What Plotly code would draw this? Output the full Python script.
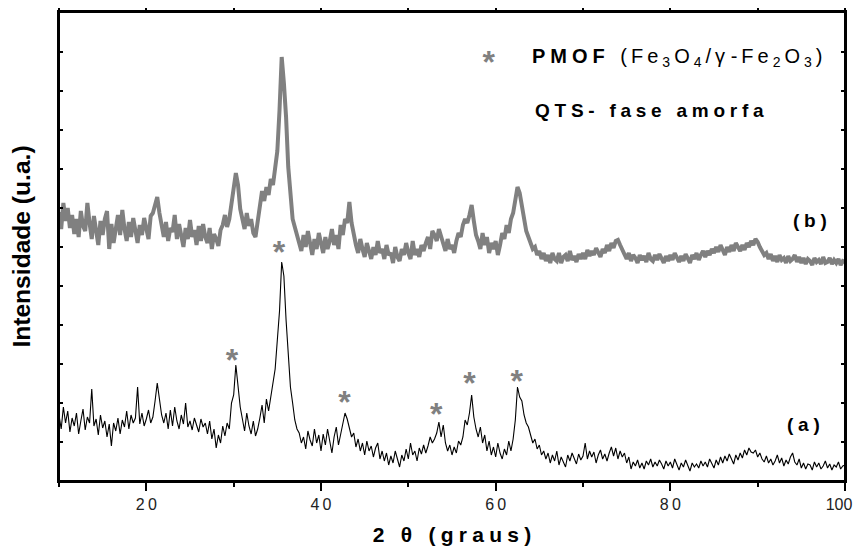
import numpy as np
import plotly.graph_objects as go

# 2-theta sampling (degrees), 0.25 step from 10 to 100
two_theta = np.arange(10.0, 100.001, 0.25)

# (a) black pattern, intensity (a.u.)
intensity_a = [
    66, 52, 74, 58,  70, 49, 63, 55,  68, 47, 60, 72,  51, 64, 58, 92,
    55, 62, 46, 66,  53, 60, 44, 57,  35, 58, 50, 63,  47, 61, 54, 70,
    52, 66, 58, 63,  94, 57, 68, 55,  62, 71, 58, 64,  80, 98, 82, 66,
    58, 68, 52, 71,  55, 74, 60, 52,  66, 57, 78, 54,  60, 51, 63, 55,
    49, 62, 54, 58,  47, 60, 42, 52,  33, 46, 38, 55,  45, 58, 52, 78,
    86, 116, 92, 74, 62, 50, 68, 55,  47, 60, 45, 52,  63, 76, 58, 82,
    70, 84, 96, 112, 141, 170, 219, 205, 161, 124, 94, 78, 61, 52, 48, 38,
    44, 32, 50, 41,  35, 52, 38, 46,  30, 47, 36, 52,  40, 28, 44, 54,
    36, 48, 56, 68,  62, 54, 44, 48,  34, 42, 30, 38,  26, 40, 30, 35,
    24, 33, 38, 22,  30, 20, 28, 16,  25, 18, 30, 22,  14, 26, 20, 32,
    22, 38, 26, 30,  20, 33, 27, 36,  28, 35, 44, 38,  42, 48, 59, 44,
    56, 38, 30, 36,  26, 34, 28, 40,  36, 44, 61, 56,  68, 86, 64, 52,
    44, 54, 38, 46,  30, 40, 26, 34,  24, 38, 28, 22,  32, 26, 40, 30,
    42, 61, 94, 84,  80, 66, 58, 54,  46, 38, 42, 32,  36, 26, 30, 22,
    28, 18, 26, 20,  30, 16, 24, 19,  14, 26, 20, 28,  22, 17, 27, 21,
    25, 38, 22, 30,  24, 29, 18, 26,  31, 22, 27, 20,  28, 34, 25, 33,
    22, 30, 24, 28,  18, 24, 12, 19,  15, 21, 13, 18,  12, 20, 16, 22,
    14, 19, 15, 21,  17, 12, 20, 15,  19, 13, 22, 16,  11, 18, 14, 21,
    15, 10, 18, 14,  17, 13, 20, 15,  19, 14, 22, 17,  13, 21, 16, 24,
    18, 25, 20, 27,  22, 17, 26, 21,  28, 23, 31, 26,  33, 29, 28, 31,
    24, 28, 22, 19,  25, 18, 22, 16,  20, 26, 18, 23,  15, 21, 17, 24,
    28, 19, 16, 22,  13, 18, 12, 17,  16, 11, 19, 14,  18, 12, 15, 20,
    13, 17, 11, 16,  14, 19, 12, 15,  16,
]

# (b) grey pattern, intensity (a.u.)
intensity_b = [
    269, 252, 278, 260,  273, 253, 266, 247,  262, 244, 270, 255,  250, 278, 258, 242,
    265, 251, 236, 260,  246, 262, 270, 232,  257, 238, 255, 266,  246, 271, 252, 240,
    259, 244, 263, 250,  238, 256, 246, 263,  250, 242, 265, 268,  276, 284, 268, 254,
    244, 259, 240, 253,  249, 266, 242, 257,  246, 234, 253, 242,  261, 244, 251, 236,
    255, 240, 257, 244,  238, 253, 232, 247,  242, 235, 251, 256,  266, 254, 262, 280,
    290, 308, 296, 272,  262, 252, 268, 255,  262, 248, 244, 258,  276, 290, 280, 294,
    286, 302, 296, 314,  330, 371, 424, 398,  364, 314, 281, 262,  254, 246, 240, 230,
    246, 234, 250, 238,  226, 242, 232, 248,  236, 228, 244, 232,  240, 252, 236, 246,
    232, 256, 246, 262,  258, 279, 258, 246,  236, 228, 242, 232,  224, 238, 230, 222,
    234, 226, 240, 228,  232, 222, 236, 226,  228, 218, 234, 224,  220, 232, 226, 238,
    228, 222, 240, 226,  232, 224, 236, 230,  238, 244, 232, 250,  246, 240, 252, 244,
    238, 230, 242, 232,  236, 228, 240, 248,  244, 256, 262, 258,  266, 276, 260, 246,
    240, 232, 248, 236,  244, 228, 238, 232,  240, 226, 236, 248,  242, 256, 248, 262,
    268, 284, 294, 288,  276, 262, 250, 244,  238, 232, 234, 226,  230, 222, 228, 220,
    226, 218, 228, 222,  220, 228, 218, 224,  226, 220, 230, 221,  225, 219, 227, 222,
    228, 222, 231, 225,  230, 226, 233, 228,  224, 232, 228, 236,  230, 238, 233, 240,
    241, 236, 232, 226,  222, 228, 220, 226,  223, 218, 226, 221,  225, 219, 228, 222,
    220, 226, 221, 227,  222, 218, 225, 220,  226, 221, 228, 223,  219, 225, 220, 227,
    223, 218, 226, 222,  228, 221, 226, 230,  224, 230, 226, 232,  228, 234, 229, 236,
    231, 226, 234, 229,  236, 230, 238, 233,  230, 236, 231, 238,  234, 240, 236, 242,
    239, 234, 230, 226,  228, 222, 227, 220,  225, 219, 226, 221,  223, 218, 225, 220,
    222, 226, 219, 224,  218, 223, 217, 222,  220, 216, 223, 219,  221, 217, 224, 218,
    219, 223, 217, 221,  218, 222, 216, 220,  219,
]

# peak markers (*) positions
star_x = [35.18, 29.8, 42.7, 53.2, 57.0, 62.4, 59.2]
star_y = [226, 118, 76, 64, 95, 97, 416]

tick_vals = [20, 40, 60, 80, 100]

THIN = "\u2009"     # ~0.2 em
QUAD = "\u2005"     # 0.25 em
NB = "\u00a0"
WORD = QUAD + NB + QUAD


def sp(s, gap):
    return gap.join(list(s))


tick_text = [sp(str(v), THIN) for v in tick_vals[:-1]] + ["100" + QUAD * 3]

FONT = "Liberation Sans, Arial, sans-serif"
GREY = "#808080"

fig = go.Figure()
fig.add_trace(go.Scatter(x=two_theta, y=intensity_b, mode="lines",
                         line=dict(color=GREY, width=4), name="(b)", showlegend=False))
fig.add_trace(go.Scatter(x=two_theta, y=intensity_a, mode="lines",
                         line=dict(color="black", width=1.1), name="(a)", showlegend=False))
fig.add_trace(go.Scatter(x=star_x, y=star_y, mode="text", text=["*"] * len(star_x),
                         textposition="middle center",
                         textfont=dict(family=FONT, size=32, color=GREY, weight="bold"),
                         showlegend=False, hoverinfo="skip"))

pmof = ("<b>" + sp("PMOF", QUAD) + "</b>" + NB + QUAD + QUAD +
        sp("(Fe", THIN) + THIN + "<sub>3</sub>" + THIN + "O" + THIN + "<sub>4</sub>" + THIN +
        sp("/γ", THIN) + NB + sp("-Fe", THIN) + THIN + "<sub>2</sub>" + THIN + "O" + THIN +
        "<sub>3</sub>" + THIN + ")")
qts = "<b>" + sp("QTS-", QUAD) + WORD + sp("fase", QUAD) + WORD + sp("amorfa", QUAD) + "</b>"
xtitle = "<b>2" + WORD + "θ" + WORD + sp("(graus)", QUAD) + "</b>"

annotations = [
    dict(x=63.9, y=424, xref="x", yref="y", text=pmof, showarrow=False,
         xanchor="left", yanchor="middle", font=dict(family=FONT, size=20, color="black")),
    dict(x=64.25, y=371, xref="x", yref="y", text=qts, showarrow=False,
         xanchor="left", yanchor="middle", font=dict(family=FONT, size=19, color="black")),
    dict(x=96.0, y=261, xref="x", yref="y", text="<b>" + sp("(b)", QUAD) + "</b>", showarrow=False,
         xanchor="center", yanchor="middle", font=dict(family=FONT, size=19, color="black")),
    dict(x=95.2, y=57, xref="x", yref="y", text="<b>" + sp("(a)", QUAD) + "</b>", showarrow=False,
         xanchor="center", yanchor="middle", font=dict(family=FONT, size=19, color="black")),
]

# the page body has an 8 px margin, so the figure is sized to fit inside the window
fig.update_layout(
    width=853, height=538,
    margin=dict(l=51, r=16, t=4, b=65),
    paper_bgcolor="white", plot_bgcolor="white",
    font=dict(family=FONT, color="black"),
    annotations=annotations,
    shapes=[dict(type="rect", xref="x domain", yref="y domain", x0=0, x1=1, y0=0, y1=1,
                 line=dict(color="black", width=2), fillcolor="rgba(0,0,0,0)", layer="above")],
    xaxis=dict(range=[10, 100], showgrid=False, zeroline=False, automargin=False,
               showline=True, linecolor="black", linewidth=2, mirror="ticks",
               tickvals=tick_vals, ticktext=tick_text, ticks="outside",
               ticklen=8, tickwidth=2, tickcolor="black", ticklabeloverflow="allow",
               tickfont=dict(family=FONT, size=16, color="#222"),
               minor=dict(tickvals=[10, 30, 50, 70, 90], ticks="outside", ticklen=4,
                          tickwidth=2, tickcolor="black"),
               title=dict(text=xtitle, font=dict(family=FONT, size=21, color="black"), standoff=17)),
    yaxis=dict(range=[0, 469], showgrid=False, zeroline=False, automargin=False,
               showline=True, linecolor="black", linewidth=2, mirror="ticks",
               dtick=39, tick0=0, ticks="inside", ticklen=4, tickwidth=1.5,
               tickcolor="black", showticklabels=False,
               title=dict(text="<b>Intensidade (u.a.)</b>",
                          font=dict(family=FONT, size=24.6, color="black"), standoff=20)),
)

fig.write_html("out.html")
